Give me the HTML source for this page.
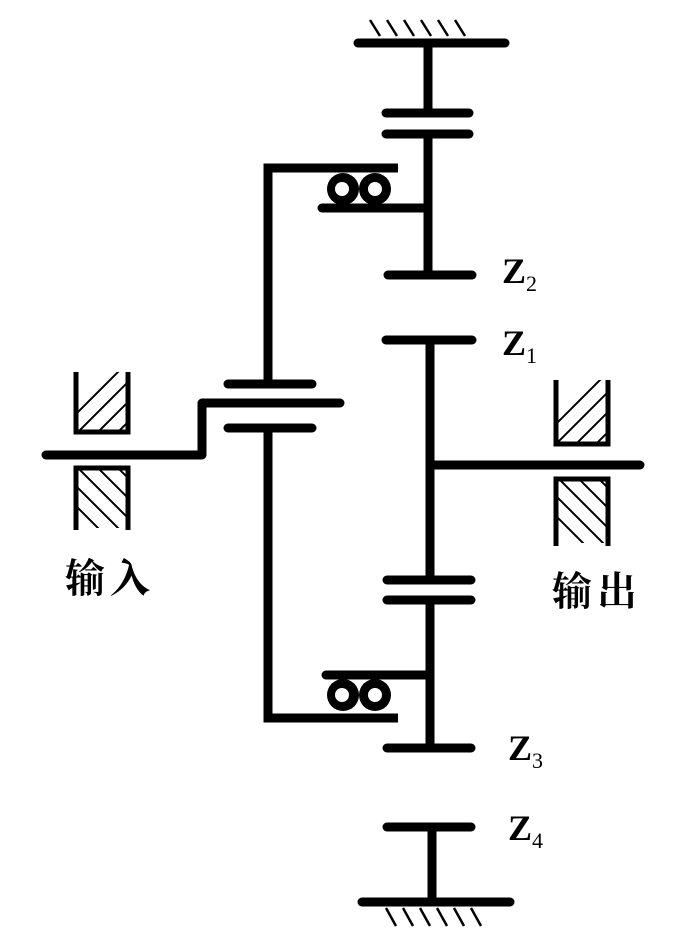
<!DOCTYPE html>
<html><head><meta charset="utf-8"><style>html,body{margin:0;padding:0;background:#fff}svg{display:block}</style></head>
<body>
<svg width="700" height="952" viewBox="0 0 700 952" xmlns="http://www.w3.org/2000/svg">
<defs>
<clipPath id="cA"><rect x="78" y="372" width="50" height="58"/></clipPath>
<clipPath id="cB"><rect x="78" y="470" width="50" height="58"/></clipPath>
<clipPath id="cC"><rect x="558" y="380" width="50" height="62"/></clipPath>
<clipPath id="cD"><rect x="558" y="481" width="50" height="62"/></clipPath>
</defs>
<g stroke="#000" stroke-width="9" stroke-linecap="round" fill="none">
<line x1="358" y1="43" x2="505" y2="43"/>
<line x1="428" y1="43" x2="428" y2="113"/>
<line x1="386" y1="113" x2="469" y2="113"/>
<line x1="386" y1="134" x2="469" y2="134"/>
<line x1="428" y1="134" x2="428" y2="275"/>
<line x1="388" y1="275" x2="472" y2="275"/>
<line x1="322" y1="208" x2="428" y2="208"/>
<polyline points="398,168 268,168 268,384" stroke-linecap="butt"/>
<polyline points="268,428 268,718 398,718" stroke-linecap="butt"/>
<line x1="228" y1="384" x2="312" y2="384"/>
<line x1="228" y1="428" x2="312" y2="428"/>
<polyline points="46,455 202,455 202,403 340,403" stroke-linejoin="round"/>
<line x1="386" y1="340" x2="472" y2="340"/>
<line x1="430" y1="340" x2="430" y2="580"/>
<line x1="430" y1="465" x2="640" y2="465"/>
<line x1="387" y1="580" x2="471" y2="580"/>
<line x1="387" y1="600" x2="471" y2="600"/>
<line x1="430" y1="600" x2="430" y2="748"/>
<line x1="326" y1="675" x2="430" y2="675"/>
<line x1="387" y1="748" x2="471" y2="748"/>
<line x1="387" y1="827" x2="471" y2="827"/>
<line x1="432" y1="827" x2="432" y2="902"/>
<line x1="362" y1="902" x2="510" y2="902"/>
</g>
<g stroke="#000" stroke-width="2.5">
<line x1="370" y1="20" x2="380" y2="36"/><line x1="387" y1="20" x2="397" y2="36"/><line x1="404" y1="20" x2="414" y2="36"/><line x1="421" y1="20" x2="431" y2="36"/><line x1="438" y1="20" x2="448" y2="36"/><line x1="455" y1="20" x2="465" y2="36"/>
<line x1="386" y1="908" x2="396" y2="926"/><line x1="403" y1="908" x2="413" y2="926"/><line x1="420" y1="908" x2="430" y2="926"/><line x1="437" y1="908" x2="447" y2="926"/><line x1="454" y1="908" x2="464" y2="926"/><line x1="471" y1="908" x2="481" y2="926"/>
</g>
<g fill="#000">
<circle cx="343" cy="189" r="16"/><circle cx="375" cy="189" r="16"/>
<circle cx="343" cy="695" r="16"/><circle cx="375" cy="695" r="16"/>
</g>
<g fill="#fff">
<circle cx="342" cy="189" r="7"/><circle cx="375" cy="189" r="7"/>
<circle cx="342" cy="695" r="7"/><circle cx="375" cy="695" r="7"/>
</g>
<g stroke="#000" stroke-width="2" clip-path="url(#cA)">
<line x1="70" y1="420" x2="130" y2="360"/><line x1="70" y1="440" x2="130" y2="380"/><line x1="70" y1="460" x2="130" y2="400"/><line x1="80" y1="470" x2="140" y2="410"/>
</g>
<g stroke="#000" stroke-width="2" clip-path="url(#cB)">
<line x1="70" y1="460" x2="140" y2="530"/><line x1="70" y1="480" x2="140" y2="550"/><line x1="70" y1="500" x2="140" y2="570"/><line x1="90" y1="460" x2="160" y2="530"/><line x1="110" y1="460" x2="180" y2="530"/>
</g>
<g stroke="#000" stroke-width="2" clip-path="url(#cC)">
<line x1="550" y1="430" x2="610" y2="370"/><line x1="550" y1="450" x2="610" y2="390"/><line x1="550" y1="470" x2="610" y2="410"/><line x1="560" y1="480" x2="620" y2="420"/>
</g>
<g stroke="#000" stroke-width="2" clip-path="url(#cD)">
<line x1="550" y1="470" x2="620" y2="540"/><line x1="550" y1="490" x2="620" y2="560"/><line x1="550" y1="510" x2="620" y2="580"/><line x1="570" y1="470" x2="640" y2="540"/><line x1="590" y1="470" x2="660" y2="540"/>
</g>
<g stroke="#000" stroke-width="5" fill="none">
<polyline points="76,372 76,432 128,432 128,372"/>
<polyline points="76,530 76,468 128,468 128,530"/>
<polyline points="556,380 556,444 608,444 608,380"/>
<polyline points="556,546 556,479 608,479 608,546"/>
</g>
<g font-family="Liberation Serif, serif" font-weight="bold" fill="#000">
<text x="502" y="283" font-size="36">Z<tspan font-size="22" font-weight="normal" dy="8">2</tspan></text>
<text x="502" y="355" font-size="36">Z<tspan font-size="22" font-weight="normal" dy="8">1</tspan></text>
<text x="508" y="760" font-size="36">Z<tspan font-size="22" font-weight="normal" dy="8">3</tspan></text>
<text x="508" y="840" font-size="36">Z<tspan font-size="22" font-weight="normal" dy="8">4</tspan></text>
</g>
<g font-family="Liberation Serif, 'Noto Serif CJK SC', serif" font-weight="bold" font-size="40" fill="#000" letter-spacing="5">
<text x="65" y="592">输入</text>
<text x="552" y="605">输出</text>
</g>
</svg>
</body></html>
